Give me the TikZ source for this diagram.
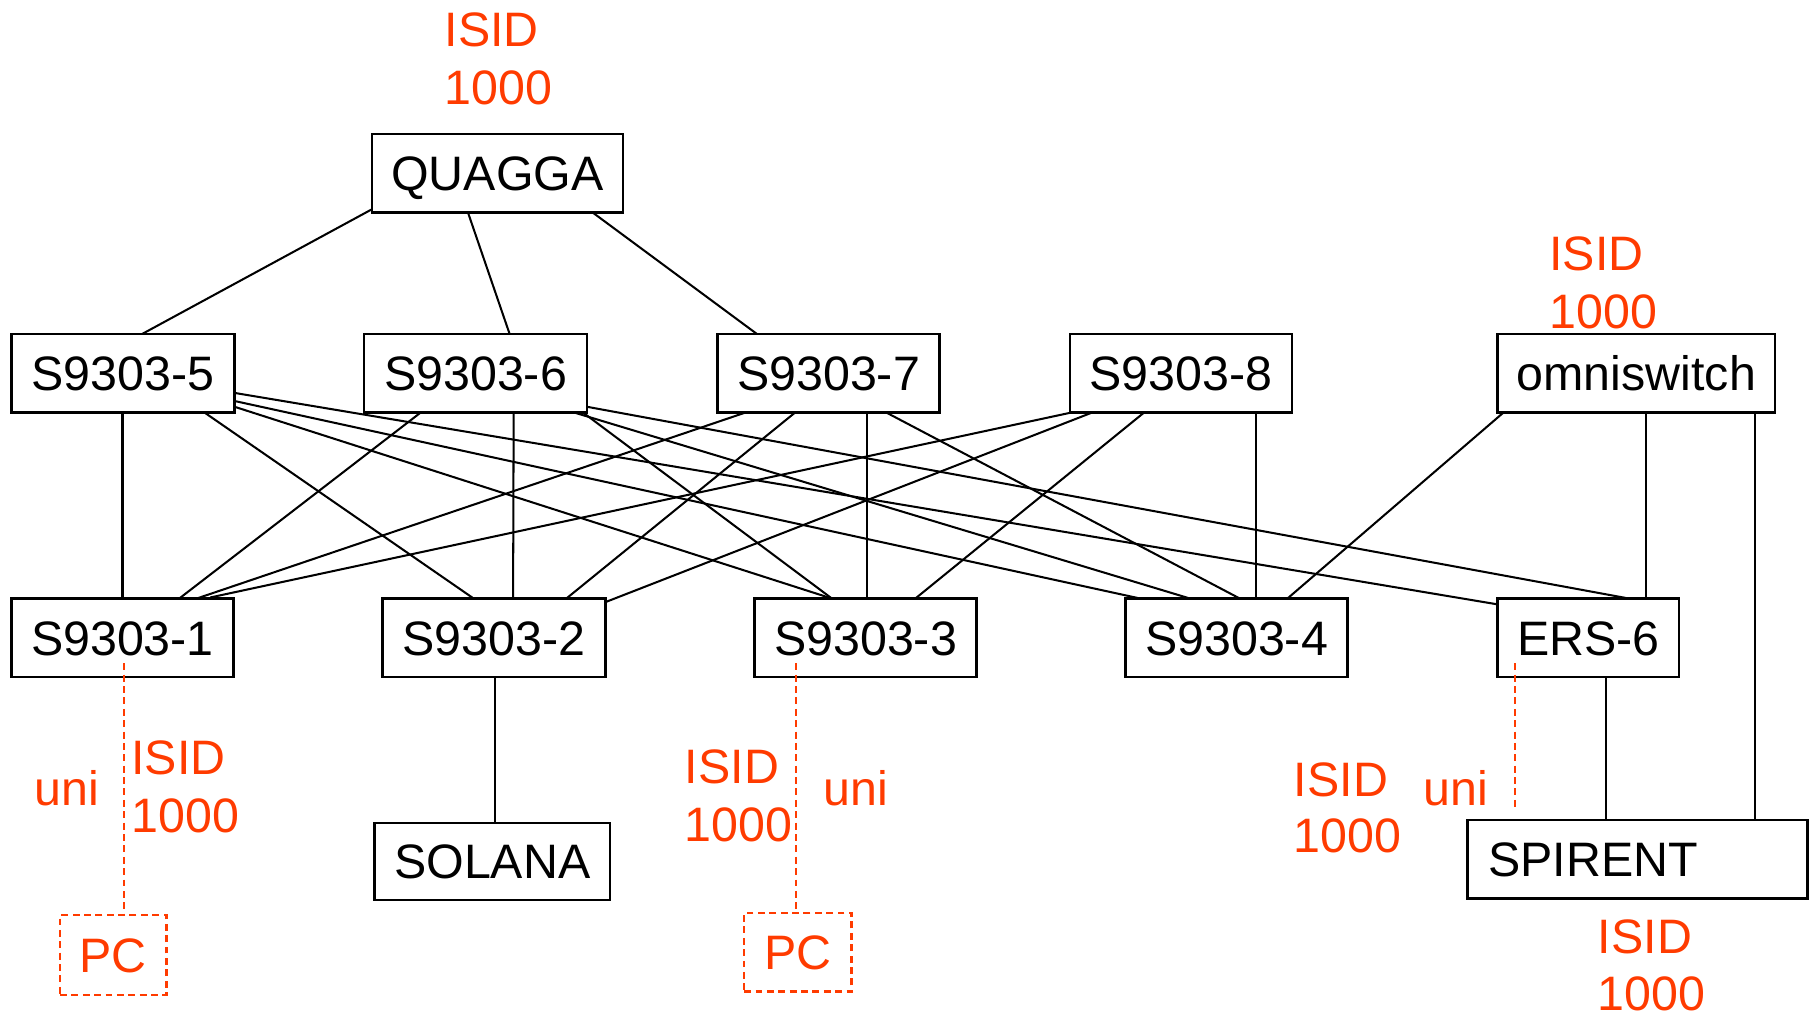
\documentclass[tikz,border=0pt]{standalone}
\usepackage{fontspec}
\setmainfont{Liberation Sans}
\usetikzlibrary{calc}
\definecolor{isidred}{RGB}{255,59,0}
\begin{document}
\begin{tikzpicture}[x=0.01cm,y=-0.01cm,
  every node/.style={font=\fontsize{11.9}{14}\selectfont},
  box/.style={draw, line width=0.6pt, inner sep=0pt, minimum height=0.68cm, text height=0.30cm, text depth=0pt},
  pcbox/.style={draw=isidred, dash pattern=on 1.7pt off 1.1pt, line width=0.6pt, inner sep=0pt, text=isidred, minimum height=0.68cm, text height=0.30cm, text depth=0pt},
  link/.style={line width=0.5pt},
  unilink/.style={draw=isidred, line width=0.5pt, dash pattern=on 1.7pt off 1.1pt},
  lbl/.style={text=isidred, anchor=base west, inner sep=0pt}]
\useasboundingbox (0,0) rectangle (1568,878);

% boxes
\node[box, minimum width=2.17cm] (q)   at (430.5,150) {QUAGGA};
\node[box, minimum width=1.93cm] (s5)  at (106.5,323) {S9303-5};
\node[box, minimum width=1.93cm] (s6)  at (411.5,323) {S9303-6};
\node[box, minimum width=1.92cm] (s7)  at (717,323)   {S9303-7};
\node[box, minimum width=1.92cm] (s8)  at (1022,323)  {S9303-8};
\node[box, minimum width=2.40cm] (om)  at (1416,323)  {omniswitch};
\node[box, minimum width=1.92cm] (s1)  at (106,552)   {S9303-1};
\node[box, minimum width=1.93cm] (s2)  at (427.5,552) {S9303-2};
\node[box, minimum width=1.92cm] (s3)  at (749,552)   {S9303-3};
\node[box, minimum width=1.92cm] (s4)  at (1070,552)  {S9303-4};
\node[box, minimum width=1.57cm] (ers) at (1374.5,552) {ERS-6};
\node[box, minimum width=2.04cm, minimum height=0.67cm] (sol) at (426,745.5) {SOLANA};
\node[box, minimum width=2.94cm, inner xsep=0.18cm, text width=2.58cm, align=left] (spi) at (1417,743.6) {SPIRENT};
\node[pcbox, minimum width=0.92cm, minimum height=0.69cm] (pc1) at (98,826.5) {PC};
\node[pcbox, minimum width=0.93cm] (pc2) at (690.5,824) {PC};

% QUAGGA links
\draw[link] ($(q)+(-108.5,31)$) -- ($(s5)+(16.5,-34)$);
\draw[link] ($(q)+(-25.5,34)$) -- ($(s6)+(29.5,-34)$);
\draw[link] ($(q)+(82.5,34)$) -- ($(s7)+(-62,-34)$);

% S9303-5
\draw[link] ($(s5)+(-0.5,34)$) -- ($(s1)+(0,-34)$);
\draw[link] ($(s5)+(70.5,34)$) -- ($(s2)+(-17.5,-34)$);
\draw[link] ($(s5)+(96.5,29)$) -- ($(s3)+(-29,-34)$);
\draw[link] ($(s5)+(96.5,24)$) -- ($(s4)+(-83,-34)$);
\draw[link] ($(s5)+(96.5,17)$) -- ($(ers)+(-78.5,-29)$);

% S9303-6
\draw[link] ($(s6)+(-47.5,34)$) -- ($(s1)+(49,-34)$);
\draw[link] ($(s6)+(33,34)$) -- ($(s2)+(16.5,-34)$);
\draw[link] ($(s6)+(93,34)$) -- ($(s3)+(-29,-34)$);
\draw[link] ($(s6)+(85.5,34)$) -- ($(s4)+(-40,-34)$);
\draw[link] ($(s6)+(96.5,29)$) -- ($(ers)+(35.5,-34)$);

% S9303-7
\draw[link] ($(s7)+(-72,34)$) -- ($(s1)+(64,-34)$);
\draw[link] ($(s7)+(-29,34)$) -- ($(s2)+(62.5,-34)$);
\draw[link] ($(s7)+(33,34)$) -- ($(s3)+(1,-34)$);
\draw[link] ($(s7)+(50,34)$) -- ($(s4)+(3,-34)$);

% S9303-8
\draw[link] ($(s8)+(-95,34)$) -- ($(s1)+(76,-35)$);
\draw[link] ($(s8)+(-77,34)$) -- ($(s2)+(96.5,-31)$);
\draw[link] ($(s8)+(-32,34)$) -- ($(s3)+(43,-34)$);
\draw[link] ($(s8)+(65,34)$) -- ($(s4)+(17,-34)$);

% omniswitch
\draw[link] ($(om)+(-115,34)$) -- ($(s4)+(44,-34)$);
\draw[link] ($(om)+(8,34)$) -- ($(ers)+(49.5,-34)$);
\draw[link] ($(om)+(103,34)$) -- ($(spi)+(102,-34)$);

% lower links
\draw[link] ($(ers)+(15.5,34)$) -- ($(spi)+(-27,-34)$);
\draw[link] ($(s2)+(0.5,34)$) -- ($(sol)+(2,-33.5)$);

% dashed uni links
\coordinate (ersend) at (1311,701);
\draw[unilink] ($(s1)+(1,22)$) -- ($(pc1)+(9,-34.5)$);
\draw[unilink] ($(s3)+(-60,22)$) -- ($(pc2)+(-1.5,-34)$);
\draw[unilink] ($(ers)+(-63.5,22)$) -- (ersend);

% red labels
\node[lbl] (tq1) at (384,40) {ISID};
\node[lbl] (tq2) at (384,90) {1000};
\node[lbl] (to1) at (1340,234) {ISID};
\node[lbl] (to2) at (1340,284) {1000};
\node[lbl] (u1)  at (29,697) {uni};
\node[lbl] (a1)  at (113,670) {ISID};
\node[lbl] (a2)  at (113,720) {1000};
\node[lbl] (b1)  at (592,678) {ISID};
\node[lbl] (b2)  at (592,728) {1000};
\node[lbl] (u2)  at (712,697) {uni};
\node[lbl] (c1)  at (1119,689) {ISID};
\node[lbl] (c2)  at (1119,738) {1000};
\node[lbl] (u3)  at (1231,697) {uni};
\node[lbl] (d1)  at (1382,825) {ISID};
\node[lbl] (d2)  at (1382,874) {1000};
\end{tikzpicture}
\end{document}
